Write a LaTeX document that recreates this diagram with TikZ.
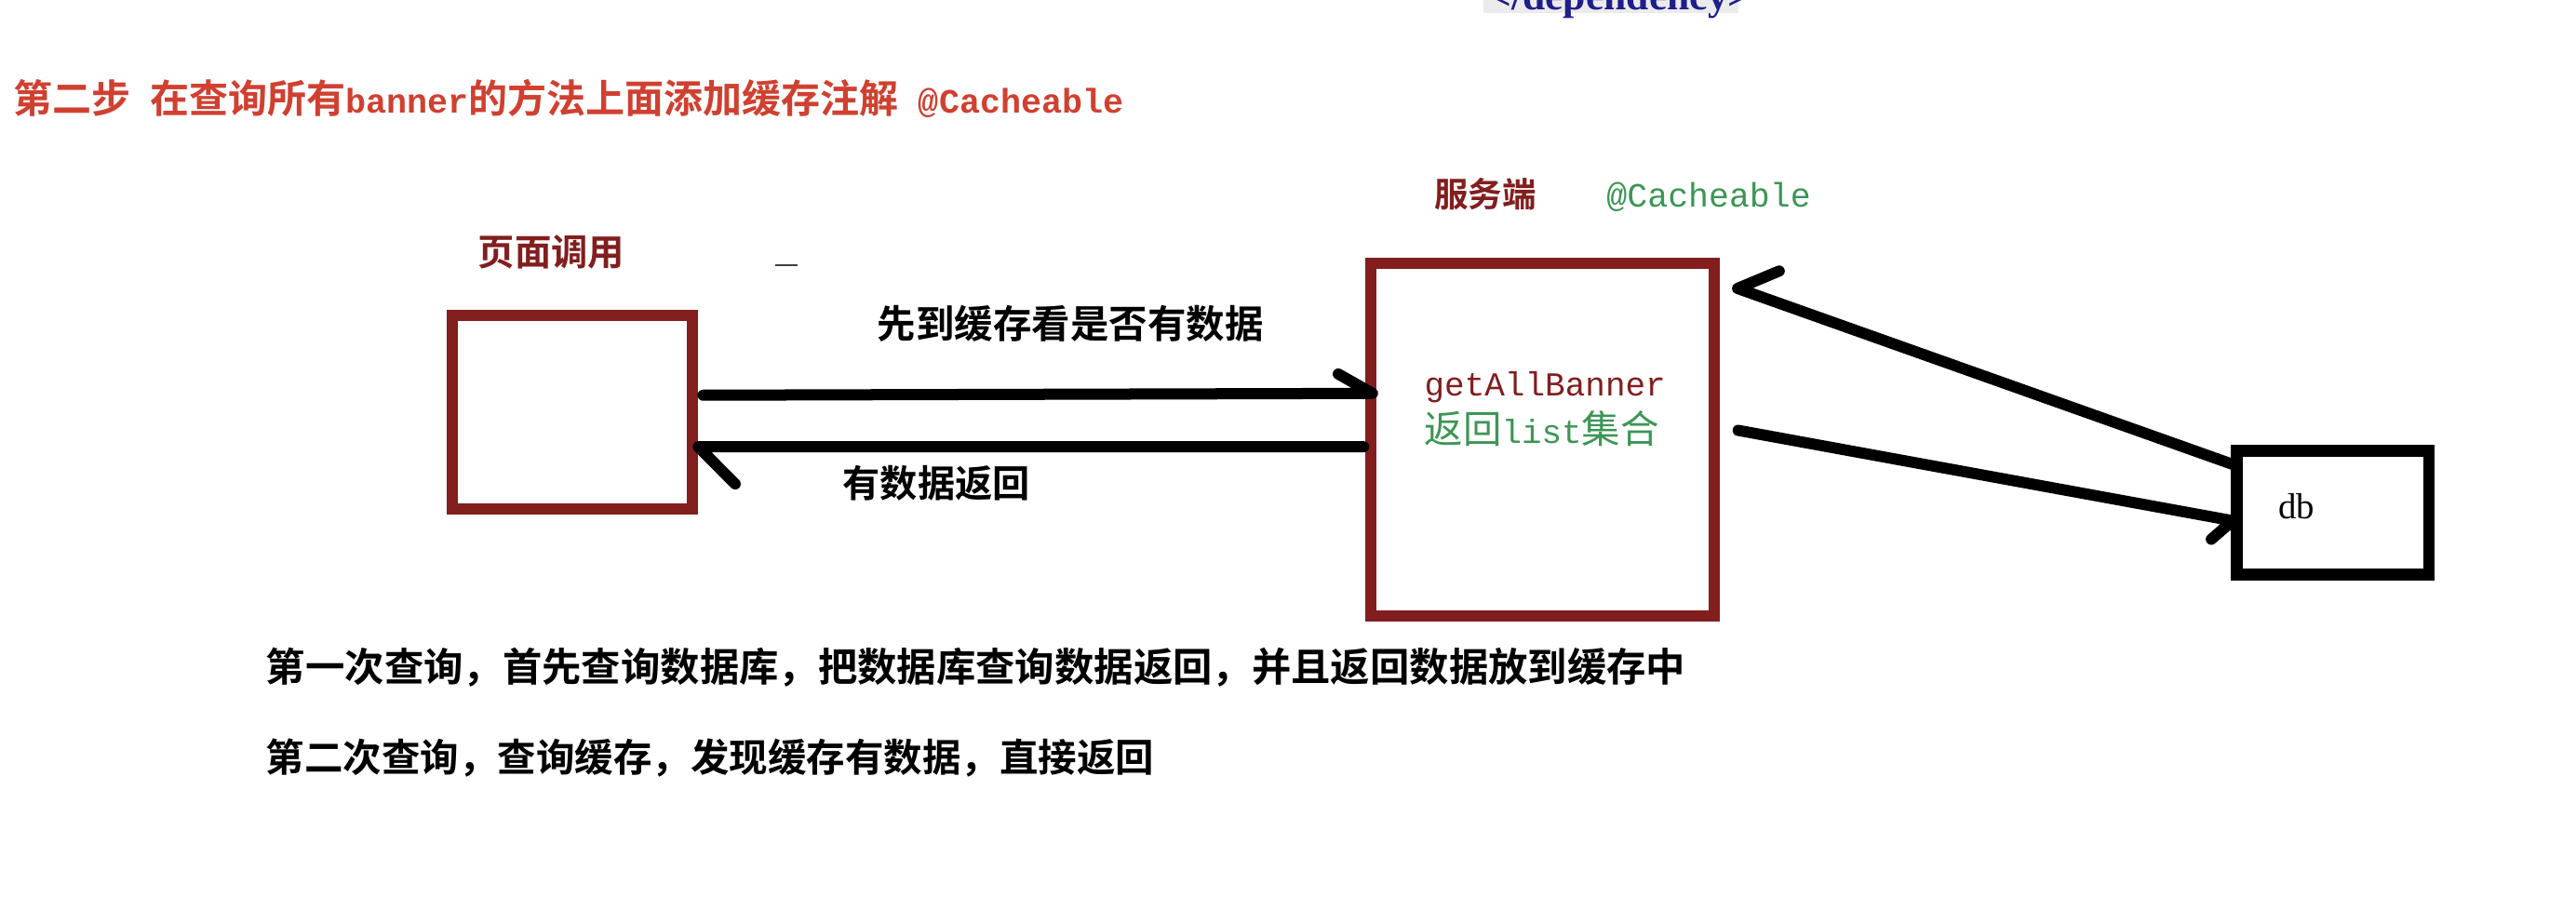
\documentclass[tikz,border=0pt]{standalone}
\usepackage{fontspec}
\usetikzlibrary{calc}
\newfontfamily\cjk{Noto Sans CJK SC Bold}
\newfontfamily\cjkr{Noto Sans CJK SC}
\newfontfamily\mono{Liberation Mono}
\newfontfamily\serifdb{Liberation Serif}
\definecolor{titlered}{RGB}{208,64,48}
\definecolor{darkred}{RGB}{130,30,30}
\definecolor{codegreen}{RGB}{60,150,85}
\definecolor{depblue}{RGB}{30,30,140}
\definecolor{depgray}{RGB}{235,235,235}
\begin{document}
\begin{tikzpicture}[x=1pt,y=-1pt,
  lbl/.style={inner sep=0pt, outer sep=0pt, anchor=base west},
  redbox/.style={draw=darkred, line width=6.8pt, inner sep=0pt, outer sep=0pt},
  dbbox/.style={draw=black, line width=7.2pt, inner sep=0pt, outer sep=0pt},
  conn/.style={draw=black, line width=6.8pt, line cap=round, line join=round},
]
\useasboundingbox (0,0) rectangle (1568,554);
\fill[white] (0,0) rectangle (1568,554);
\begin{scope}
\clip (0,0) rectangle (1568,554);
\fill[depgray] (903,-10) rectangle (1058,8);
\node[lbl, text=depblue, font=\serifdb\bfseries\fontsize{24.7}{28}\selectfont] (dep) at (906,5.7) {</dependency>};
\end{scope}
% title
\node[lbl, text=titlered, font=\cjk\fontsize{23.8}{28}\selectfont] (title) at (8,69) {第二步\hspace{12pt}在查询所有{\mono\bfseries\fontsize{20.8}{28}\selectfont banner}的方法上面添加缓存注解\hspace{12pt}{\mono\bfseries\fontsize{20.8}{28}\selectfont @Cacheable}};
% boxes
\node[redbox, minimum width=146.4pt, minimum height=117.4pt] (page) at (348.5,251) {};
\node[redbox, minimum width=209.2pt, minimum height=214.6pt] (server) at (939,267.7) {};
\node[dbbox, minimum width=116.8pt, minimum height=75.3pt] (db) at (1420,312.25) {};
% labels
\node[lbl, text=darkred, font=\cjk\fontsize{22.3}{26}\selectfont] (pagelbl) at (291,162) {页面调用};
\node[lbl, text=darkred, font=\cjk\fontsize{20.7}{26}\selectfont] (serverlbl) at (873,126) {服务端};
\node[lbl, text=codegreen, font=\mono\fontsize{20.7}{26}\selectfont] (cacheable) at (978,126) {@Cacheable};
\node[lbl, text=black, font=\cjk\fontsize{23.5}{28}\selectfont] (ask) at (534,206) {先到缓存看是否有数据};
\node[lbl, text=black, font=\cjk\fontsize{22.8}{28}\selectfont] (ret) at (513,303) {有数据返回};
\node[lbl, text=darkred, font=\mono\fontsize{20.4}{26}\selectfont] (method) at (867,241) {getAllBanner};
\node[lbl, text=codegreen, font=\cjkr\fontsize{23.5}{28}\selectfont] (list) at (867,270) {返回{\mono\fontsize{20.3}{28}\selectfont list}集合};
\node[lbl, text=black, font=\serifdb\fontsize{22}{26}\selectfont] (dblbl) at (1387,316) {db};
\node[lbl, text=black, font=\cjk\fontsize{24}{28}\selectfont] (note1) at (162,414.8) {第一次查询，首先查询数据库，把数据库查询数据返回，并且返回数据放到缓存中};
\node[lbl, text=black, font=\cjk\fontsize{23.5}{28}\selectfont] (note2) at (162,469.6) {第二次查询，查询缓存，发现缓存有数据，直接返回};
% small dash
\draw[line width=1.5pt, black!75] (472,161.5) -- (485.5,161.5);
% connectors
\draw[conn] ($(page.east)+(6.3,-10.4)$) -- ($(server.west)+(1.1,-28.2)$) -- ++(-20.9,-11.8);
\draw[conn] ($(server.west)+(-4.4,4.3)$) -- ($(page.east)+(3.3,21)$) -- ++(22.5,22.6);
\draw[conn] ($(db.west)+(-1.6,-29.2)$) -- ($(server.east)+(14,-92.1)$) -- ++(25.4,-10.6);
\draw[conn] ($(server.east)+(14.4,-5.7)$) -- ($(db.west)+(-2.6,4.75)$) -- ++(-13,11.3);
\end{tikzpicture}
\end{document}
